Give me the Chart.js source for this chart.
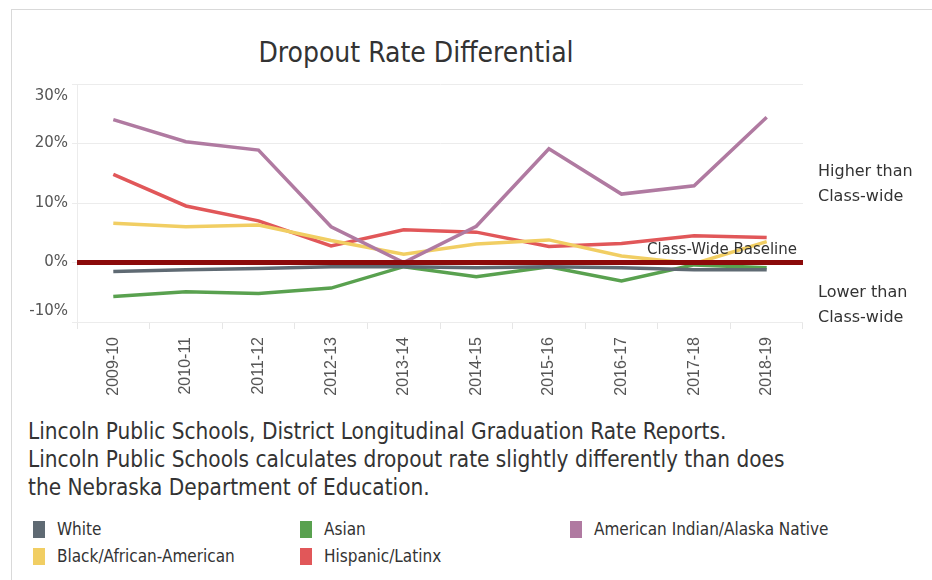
<!DOCTYPE html>
<html>
<head>
<meta charset="utf-8">
<script src="https://cdn.jsdelivr.net/npm/chart.js@4.4.1/dist/chart.umd.min.js"></script>
<style>
  html, body { margin: 0; padding: 0; background: #fff; }
  body { width: 932px; height: 580px; position: relative; overflow: hidden; }
  #frame { position: absolute; left: 11px; top: 9px; right: -5px; bottom: -5px; border-left: 1.5px solid #d9d9d9; border-top: 1.5px solid #d9d9d9; }
  #wrap { position: absolute; left: 0; top: 0; width: 932px; height: 410px; }
  .cond { font-family: 'DejaVu Sans Condensed', 'Liberation Sans Narrow', sans-serif; }
  #title { position: absolute; left: 166px; width: 500px; top: 35px; text-align: center; font-size: 28px; line-height: 36px; color: #333; }
  #note { position: absolute; left: 28px; top: 417px; font-size: 22.4px; line-height: 28px; color: #333; white-space: nowrap; }
  .side { position: absolute; left: 818px; font-family: 'DejaVu Sans', sans-serif; font-size: 16px; line-height: 25px; color: #333; white-space: nowrap; }
  #legend { position: absolute; left: 0; top: 515px; width: 932px; height: 60px; }
  .li { position: absolute; display: flex; align-items: center; font-size: 17px; color: #333; white-space: nowrap; }
  .sw { width: 12px; height: 17px; margin-right: 12px; }
</style>
</head>
<body>
<div id="frame"></div>
<div id="title" class="cond">Dropout Rate Differential</div>
<div id="wrap"><canvas id="c" width="932" height="410"></canvas></div>
<div class="side" style="top:158px">Higher than<br>Class-wide</div>
<div class="side" style="top:279px">Lower than<br>Class-wide</div>
<div id="note" class="cond">Lincoln Public Schools, District Longitudinal Graduation Rate Reports.<br>Lincoln Public Schools calculates dropout rate slightly differently than does<br>the Nebraska Department of Education.</div>
<div id="legend" class="cond"></div>
<script>
const categories = ['2009-10','2010-11','2011-12','2012-13','2013-14','2014-15','2015-16','2016-17','2017-18','2018-19'];
const white            = [-1.5, -1.2, -1.0, -0.7, -0.7, -0.9, -0.7, -0.9, -1.2, -1.2];
const asian            = [-5.7, -4.9, -5.2, -4.3, -0.7, -2.4, -0.7, -3.1, -0.4, -0.9];
const americanIndian   = [24.0, 20.3, 18.9, 6.0, 0.0, 6.1, 19.1, 11.5, 12.9, 24.4];
const black            = [6.6, 6.0, 6.3, 3.7, 1.4, 3.1, 3.8, 1.1, -0.2, 3.5];
const hispanic         = [14.8, 9.5, 7.0, 2.8, 5.5, 5.1, 2.7, 3.2, 4.5, 4.2];
const baselineValue = 0;
const yTicks = [-10, 0, 10, 20, 30];
const yTickLabels = ['-10%', '0%', '10%', '20%', '30%'];

const seriesNames = ['White', 'Asian', 'American Indian/Alaska Native', 'Black/African-American', 'Hispanic/Latinx'];
const seriesData = [white, asian, americanIndian, black, hispanic];
const seriesColors = ['#5f6a73', '#59a14f', '#b07aa1', '#f1ce63', '#e15759'];

const yLabelPlugin = {
  id: 'yLabels',
  afterDraw(chart) {
    const ctx = chart.ctx, y = chart.scales.y, a = chart.chartArea;
    ctx.save();
    ctx.font = "15px 'DejaVu Sans', sans-serif";
    ctx.fillStyle = '#555';
    ctx.textAlign = 'right';
    ctx.textBaseline = 'middle';
    yTicks.forEach((v, i) => {
      let py = y.getPixelForValue(v);
      py = Math.min(Math.max(py, a.top + 12), a.bottom - 11);
      ctx.fillText(yTickLabels[i], a.left - 9, py);
    });
    ctx.restore();
  }
};
const baselinePlugin = {
  id: 'baseline',
  afterDatasetsDraw(chart) {
    const ctx = chart.ctx, y = chart.scales.y, a = chart.chartArea;
    const py = y.getPixelForValue(baselineValue);
    ctx.save();
    ctx.strokeStyle = '#8b0a0a';
    ctx.lineWidth = 5;
    ctx.beginPath();
    ctx.moveTo(a.left, py);
    ctx.lineTo(a.right, py);
    ctx.stroke();
    ctx.font = "15px 'DejaVu Sans', sans-serif";
    ctx.fillStyle = '#333';
    ctx.textAlign = 'right';
    ctx.textBaseline = 'middle';
    ctx.fillText('Class-Wide Baseline', a.right - 6, py - 12);
    ctx.restore();
  }
};

const chart = new Chart(document.getElementById('c'), {
  type: 'line',
  data: {
    labels: categories,
    datasets: seriesNames.map((n, i) => ({
      label: n,
      data: seriesData[i],
      borderColor: seriesColors[i],
      backgroundColor: seriesColors[i],
      borderWidth: 3.5,
      pointRadius: 0,
      tension: 0,
      fill: false
    }))
  },
  options: {
    responsive: false,
    animation: false,
    layout: { padding: { top: 84, right: 129, left: 0, bottom: 0 } },
    plugins: { legend: { display: false }, tooltip: { enabled: false }, title: { display: false } },
    scales: {
      x: {
        offset: true,
        grid: { offset: true, drawOnChartArea: false, drawTicks: true, tickLength: 7, color: '#e6e6e6' },
        border: { display: false },
        ticks: { minRotation: 90, maxRotation: 90, padding: 8, color: '#555', font: { family: "'Liberation Sans', Arial, sans-serif", size: 16 } },
        afterFit(s) { s.height = 88; }
      },
      y: {
        min: -10, max: 30,
        afterBuildTicks(s) { s.ticks = yTicks.map(v => ({ value: v })); },
        grid: { color: '#ececec', lineWidth: 1, tickLength: 5 },
        border: { display: true, color: '#ececec' },
        ticks: { display: false },
        afterFit(s) { s.width = 77; }
      }
    }
  },
  plugins: [yLabelPlugin, baselinePlugin]
});

// HTML legend built from the chart's legend items
const items = chart.options.plugins.legend.labels.generateLabels(chart);
const legendPos = [[33, 14], [300, 14], [570, 14], [33, 41], [300, 41]];
const leg = document.getElementById('legend');
items.forEach((it, i) => {
  const d = document.createElement('div');
  d.className = 'li';
  d.style.left = legendPos[i][0] + 'px';
  d.style.top = (legendPos[i][1] - 10) + 'px';
  const sw = document.createElement('span');
  sw.className = 'sw';
  sw.style.background = it.strokeStyle;
  d.appendChild(sw);
  d.appendChild(document.createTextNode(it.text));
  leg.appendChild(d);
});
</script>
</body>
</html>
